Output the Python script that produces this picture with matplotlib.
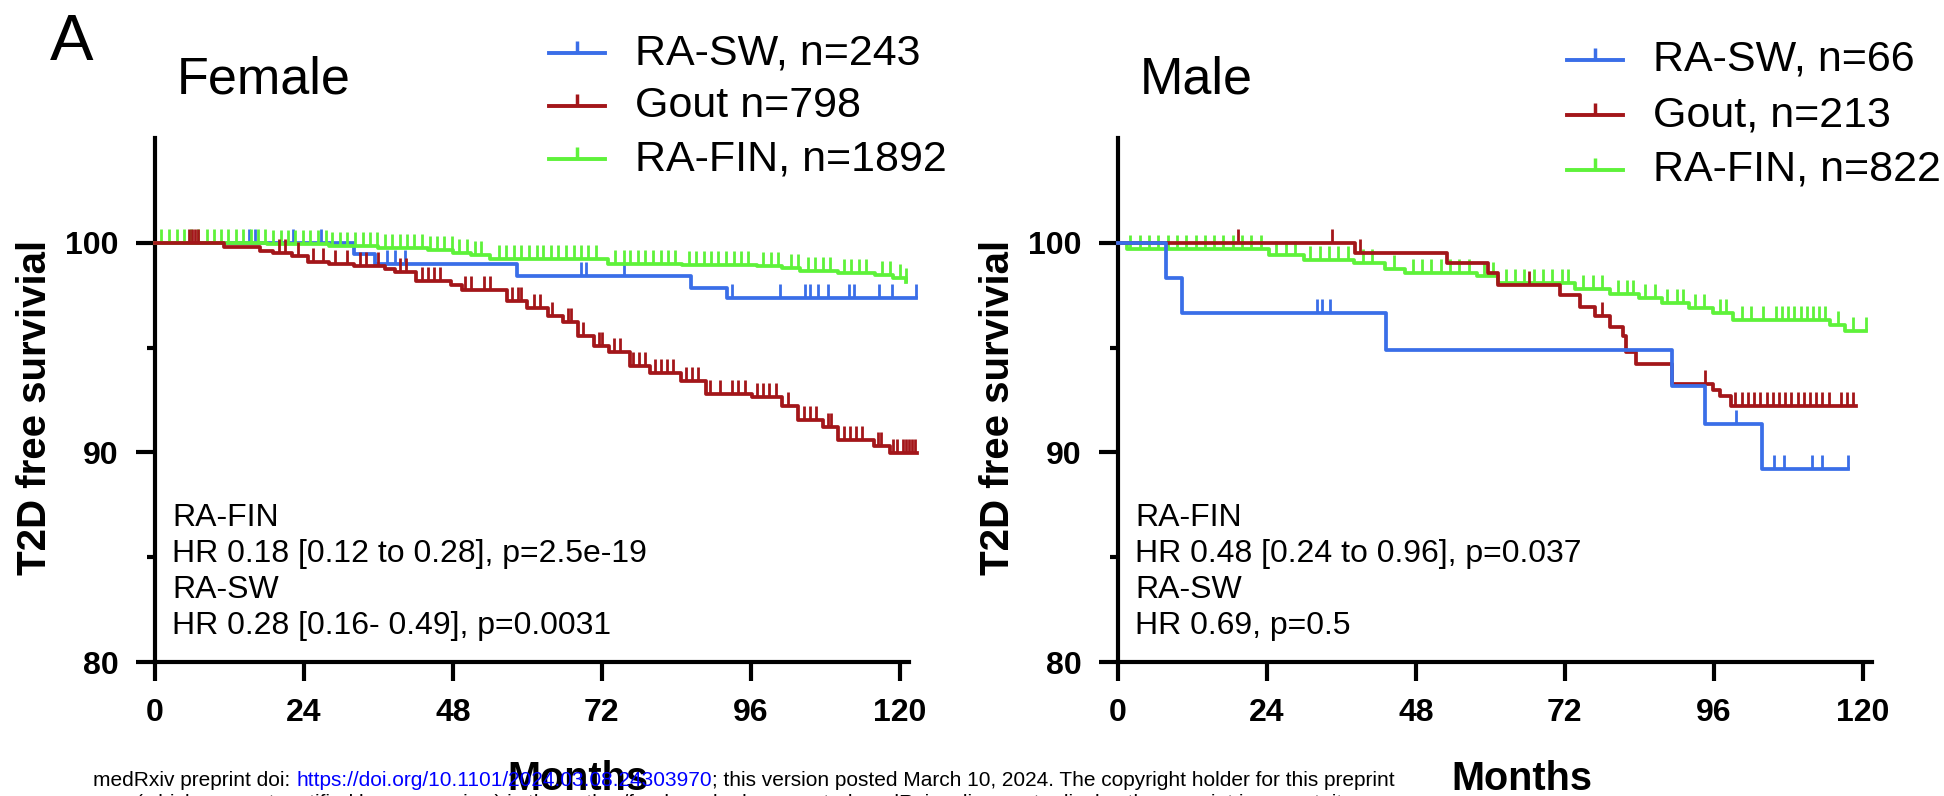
import matplotlib
matplotlib.use("Agg")
from matplotlib import pyplot as plt
from matplotlib.lines import Line2D
import numpy as np

plt.rcParams['font.family'] = ['Liberation Sans', 'DejaVu Sans']

W, H = 1944, 796

# ---- data (months, % T2D free) ----
# Female
f_sw_t = [0, 32.0, 35.4, 58.4, 86.3, 92.1, 122.6]
f_sw_s = [100, 99.45, 99.0, 98.4, 97.85, 97.35, 97.35]
f_sw_cens = [15.2, 16.1, 22.2, 26.7, 37.4, 38.7, 40.3, 68.6, 69.5, 75.6, 92.9, 100.7,
             104.8, 105.6, 106.8, 108.5, 111.8, 112.6, 116.7, 118.8, 122.6]

f_gout_t = [0, 11.1, 17, 19, 22, 24.7, 28, 32, 37, 38.7, 42, 47.7, 49.4, 56.7, 60, 63.3,
            65.8, 68.2, 70.7, 73.2, 76.5, 79.7, 84.7, 88.8, 96.2, 101.1, 103.6, 107.7,
            110.1, 115.9, 118.4, 122.8]
f_gout_s = [100, 99.8, 99.6, 99.5, 99.35, 99.1, 99.0, 98.9, 98.75, 98.6, 98.2, 98.0, 97.75,
            97.2, 96.9, 96.5, 96.2, 95.55, 95.1, 94.8, 94.1, 93.8, 93.4, 92.8, 92.65, 92.2,
            91.55, 91.2, 90.6, 90.3, 89.95, 89.95]
f_gout_cens = [5.5, 6.0, 6.5, 7.0, 20, 21, 23, 25.5, 27, 29, 31, 33, 34, 36, 39.5, 40.5, 43,
               44, 45, 46, 50, 51, 53, 54, 57.5, 58.5, 59, 61, 62, 64, 66.5, 67, 69, 71.5,
               72, 74, 75, 77, 78, 79, 80.5, 81.5, 82.5, 83.5, 85.5, 86.5, 87.5, 89.5, 91,
               93, 94, 95, 97, 98, 99, 100, 102, 104.5, 105.5, 106.5, 108.5, 109, 111, 112,
               113, 114, 116.5, 117, 119, 119.5, 120.5, 121, 121.5, 122, 122.5]

f_fin_t = [0, 18, 28, 36, 44, 48, 51, 54, 73, 85, 97, 101, 104, 110, 116, 119, 121]
f_fin_s = [100, 99.95, 99.85, 99.75, 99.65, 99.5, 99.4, 99.25, 99.0, 98.95, 98.9, 98.8,
           98.65, 98.55, 98.45, 98.3, 98.15]
f_fin_cens = [1, 2.2, 3.5, 4.6, 5.8, 7, 8.3, 9.5, 10.6, 11.8, 13, 14.2, 15.5, 16.6, 17.8, 19,
              20.3, 21.5, 22.6, 23.8, 25, 26.2, 27.5, 28.6, 29.8, 31, 32.3, 33.5, 34.6, 35.8,
              37, 38.2, 39.5, 40.6, 41.8, 43, 44.3, 45.5, 46.6, 47.8, 49, 50.2, 51.5, 52.6,
              55.5, 56.6, 57.8, 59, 60.2, 61.5, 62.6, 63.8, 65, 66.3, 67.5, 68.6, 69.8, 71,
              74.2, 75.5, 76.6, 77.8, 79, 80.2, 81.5, 82.6, 83.8, 86, 87.2, 88.5, 89.6, 90.8,
              92, 93.3, 94.5, 95.6, 98, 99.2, 100.4, 102.5, 103.6, 105.2, 106.4, 107.6, 108.8,
              111, 112.2, 113.4, 114.6, 117.2, 118.4, 120, 121]

# Male
m_sw_t = [0, 7.8, 10.3, 43.2, 89.3, 94.6, 103.7, 117.6]
m_sw_s = [100, 98.3, 96.65, 94.9, 93.15, 91.35, 89.2, 89.2]
m_sw_cens = [32.1, 32.9, 34.1, 99.6, 105.7, 107.4, 111.9, 113.5, 117.6]

m_gout_t = [0, 38.2, 53, 59.6, 61.3, 71.2, 74.5, 76.9, 79.3, 81.4, 81.8, 83.4, 89.3, 95.8,
            97, 98.7, 118.9]
m_gout_s = [100, 99.5, 99.05, 98.55, 98.0, 97.5, 96.95, 96.5, 96.0, 95.55, 94.8, 94.2, 93.25,
            93.0, 92.7, 92.2, 92.2]
m_gout_cens = [19.3, 34.5, 39, 66.2, 78, 94.6, 99.5, 100.5, 101.5, 102.5, 103.5, 104.5,
               105.5, 106.5, 107.5, 108.5, 109.5, 110.5, 111.5, 112.5, 113.5, 114.5, 116.5,
               117.5, 118.5]

m_fin_t = [0, 1.5, 24.3, 30, 38, 43, 46.3, 57.9, 61.3, 73.6, 79.3, 84, 87.6, 92, 95.8, 99.1,
           114.8, 117.2, 120.5]
m_fin_s = [100, 99.7, 99.4, 99.2, 99.05, 98.75, 98.55, 98.4, 98.1, 97.8, 97.55, 97.35, 97.15,
           96.9, 96.65, 96.3, 96.1, 95.8, 95.8]
m_fin_cens = [2, 3.5, 5, 6.5, 8, 9.5, 11, 12.5, 14, 15.5, 17, 18.5, 20, 21.5, 23, 25.5, 27,
              28.5, 31, 32.5, 34, 35.5, 37, 39.5, 41, 44.5, 47.5, 49, 50.5, 52, 53.5, 55, 56.5,
              59, 60.5, 62.5, 64, 65.5, 67, 68.5, 70, 71.5, 72.5, 75, 76.5, 78, 80.5, 82, 83,
              85, 86.5, 88.5, 90, 91, 93, 94.5, 97, 98, 100.5, 102, 104, 106, 107, 108, 109,
              110, 111, 112, 113, 114, 116, 118.5, 120.5]

legend_f = ["RA-SW, n=243", "Gout n=798", "RA-FIN, n=1892"]
legend_m = ["RA-SW, n=66", "Gout, n=213", "RA-FIN, n=822"]
hr_f = "RA-FIN\nHR 0.18 [0.12 to 0.28], p=2.5e-19\nRA-SW\nHR 0.28 [0.16- 0.49], p=0.0031"
hr_m = "RA-FIN\nHR 0.48 [0.24 to 0.96], p=0.037\nRA-SW\nHR 0.69, p=0.5"

c_sw, c_gout, c_fin = '#3a6ee8', '#a3161a', '#5ef23a'


def fx(x):
    return x / W


def fy(y):
    return 1 - y / H


def km(ax, t, s, cens, color):
    t = np.asarray(t); s = np.asarray(s); cens = np.asarray(cens)
    ax.step(t, s, where='post', color=color, lw=2.7, clip_on=False, zorder=3)
    idx = np.searchsorted(t, cens, side='right') - 1
    ax.plot(cens, s[idx], ls='none', marker=2, ms=10, mew=2, color=color,
            clip_on=False, zorder=3)


fig = plt.figure(figsize=(W / 100, H / 100), dpi=100)

panels = [
    (155, "Female", [(f_sw_t, f_sw_s, f_sw_cens, c_sw), (f_fin_t, f_fin_s, f_fin_cens, c_fin),
                     (f_gout_t, f_gout_s, f_gout_cens, c_gout)], legend_f, hr_f, (549, 53, 53)),
    (1118, "Male", [(m_fin_t, m_fin_s, m_fin_cens, c_fin), (m_gout_t, m_gout_s, m_gout_cens, c_gout),
                    (m_sw_t, m_sw_s, m_sw_cens, c_sw)], legend_m, hr_m, (1567, 60, 55)),
]

for x0, title, series, labels, hr, (lx, ly0, dy) in panels:
    ax = fig.add_axes([fx(x0), fy(662), fx(754), 524 / H])
    for t, s, c, col in series:
        km(ax, t, s, c, col)
    ax.set_xlim(0, 121.5)
    ax.set_ylim(80, 105)
    ax.set_xticks([0, 24, 48, 72, 96, 120])
    ax.set_yticks([80, 90, 100])
    ax.set_yticks([85, 95], minor=True)
    for sp in ['top', 'right']:
        ax.spines[sp].set_visible(False)
    for sp in ['left', 'bottom']:
        ax.spines[sp].set_linewidth(3)
    ax.tick_params(axis='both', which='major', direction='out', length=14, width=3,
                   labelsize=23, pad=12)
    ax.tick_params(axis='y', which='minor', direction='out', length=6, width=3)
    plt.setp(ax.get_xticklabels() + ax.get_yticklabels(), fontweight='bold')
    ax.set_ylabel("T2D free survivial", fontsize=29, fontweight='bold', va='center')
    ax.yaxis.set_label_coords(-0.159, 0.485)
    ax.text(0.0225, 0.172, hr, transform=ax.transAxes, fontsize=23, ha='left',
            va='center', linespacing=1.26)

    fig.text(fx(x0 + 22), fy(80), title, fontsize=37.5, ha='left', va='center')

    for i, (lab, col) in enumerate(zip(labels, [c_sw, c_gout, c_fin])):
        y = ly0 + i * dy
        fig.add_artist(Line2D([fx(lx), fx(lx + 28), fx(lx + 56)], [fy(y)] * 3, color=col,
                              lw=2.8, marker=2, markevery=[1], ms=9, mew=2.5,
                              transform=fig.transFigure))
        fig.text(fx(lx + 86), fy(y), lab, fontsize=31, ha='left', va='center')

fig.text(fx(50), fy(13), "A", fontsize=47, ha='left', va='top')

# x axis titles
fig.text(fx(578), fy(790), "Months", fontsize=28.5, fontweight='bold', ha='center',
         va='baseline', zorder=1)
fig.text(fx(1522), fy(790), "Months", fontsize=28.5, fontweight='bold', ha='center',
         va='baseline', zorder=1)

# preprint watermark
fig.canvas.draw()
r = fig.canvas.get_renderer()
parts = [("medRxiv preprint doi: ", 'black'),
         ("https://doi.org/10.1101/2024.03.08.24303970", 'blue'),
         ("; this version posted March 10, 2024. The copyright holder for this preprint", 'black')]
x = 93
for txt, col in parts:
    tt = fig.text(fx(x), fy(786), txt, fontsize=15, color=col, ha='left', va='baseline',
                  zorder=5)
    bb = tt.get_window_extent(r)
    x += bb.width
fig.text(fx(746), fy(809), "(which was not certified by peer review) is the author/funder, "
         "who has granted medRxiv a license to display the preprint in perpetuity.",
         fontsize=15, ha='center', va='baseline', zorder=5)

fig.savefig("out.png", dpi=100)
